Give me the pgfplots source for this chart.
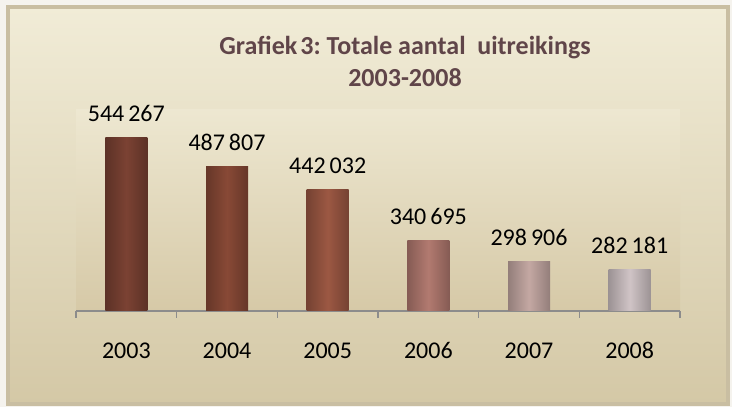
\documentclass[border=0pt]{standalone}
\usepackage{fontspec}
\setmainfont{Carlito}
\usepackage{pgfplots}
\pgfplotsset{compat=1.18}
\frenchspacing

\definecolor{outerbg}{HTML}{F5F3EE}
\definecolor{framec}{HTML}{C9BEA2}
\definecolor{bgtop}{HTML}{F1ECD7}
\definecolor{bgmid}{HTML}{EAE3CB}
\definecolor{bgbot}{HTML}{D4C8A6}
\definecolor{plotbot}{HTML}{D6C9A7}
\definecolor{axisc}{HTML}{8C8C8C}
\definecolor{titlec}{HTML}{604549}
\definecolor{barA}{HTML}{7B4233}
\definecolor{barB}{HTML}{884936}
\definecolor{barC}{HTML}{9C5843}
\definecolor{barD}{HTML}{B27A70}
\definecolor{barE}{HTML}{C4A8A3}
\definecolor{barF}{HTML}{D0C4C6}

\pgfplotsset{
  brbar/.style={ybar, bar width=42bp, bar shift=0pt, draw=none,
    left color=#1!75!black, right color=#1!75!black, middle color=#1},
}

\begin{document}
\begin{tikzpicture}
\fill[outerbg] (0,0) rectangle (732bp,407bp);
\shade[top color=bgtop, middle color=bgmid, bottom color=bgbot] (8bp,3bp) rectangle (728bp,400bp);
\draw[framec, line width=3.5bp] (8bp,3bp) rectangle (728bp,400bp);

\begin{axis}[
    at={(76bp,96bp)}, anchor=south west,
    scale only axis, width=604bp, height=201.5bp,
    xmin=-0.5, xmax=5.5, ymin=200000, ymax=600000,
    axis x line=bottom, axis y line=none,
    x axis line style={-, draw=axisc, line width=2bp},
    xtick={0,1,2,3,4,5},
    xticklabels={2003,2004,2005,2006,2007,2008},
    minor xtick={-0.5,0.5,1.5,2.5,3.5,4.5,5.5},
    major tick length=0pt, minor tick length=7bp,
    tick align=outside,
    minor tick style={draw=axisc, line width=1.5bp},
    xticklabel style={anchor=base, inner sep=0pt, yshift=-47bp,
      font=\fontsize{24bp}{28bp}\selectfont},
    axis background/.style={shade, top color=bgtop!48!bgmid, middle color=bgmid, bottom color=plotbot},
    point meta=explicit symbolic,
    nodes near coords,
    every node near coord/.append style={anchor=base, inner sep=0pt, yshift=16bp,
      text=black, font=\fontsize{24bp}{28bp}\selectfont},
    clip=false,
]
\addplot[brbar=barA] coordinates {(0,544267) [544\,267]};
\addplot[brbar=barB] coordinates {(1,487807) [487\,807]};
\addplot[brbar=barC] coordinates {(2,442032) [442\,032]};
\addplot[brbar=barD] coordinates {(3,340695) [340\,695]};
\addplot[brbar=barE] coordinates {(4,298906) [298\,906]};
\addplot[brbar=barF] coordinates {(5,282181) [282\,181]};
\end{axis}

\node[anchor=base, text=titlec, font=\bfseries\fontsize{26bp}{30bp}\selectfont] at (405bp,352bp) {Grafiek\hspace{0.12em}3: Totale aantal\hspace{0.45em}uitreikings};
\node[anchor=base, text=titlec, font=\bfseries\fontsize{26bp}{30bp}\selectfont] at (405bp,320bp) {2003-2008};
\end{tikzpicture}
\end{document}
